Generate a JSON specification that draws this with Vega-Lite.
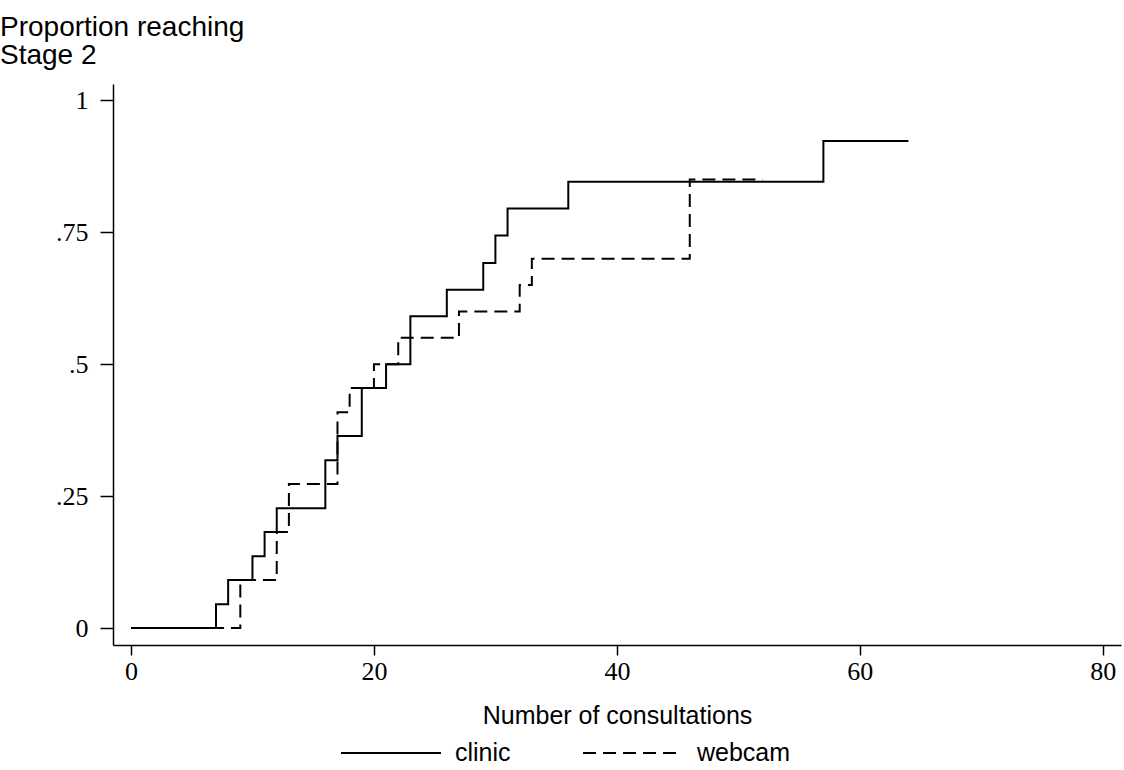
{
  "$schema": "https://vega.github.io/schema/vega-lite/v6.json",
  "autosize": "none",
  "width": 1008,
  "height": 561,
  "padding": {"left": 113, "top": 84, "right": 3, "bottom": 125},
  "background": "white",
  "title": {
    "text": ["Proportion reaching", "Stage 2"],
    "anchor": "start",
    "frame": "group",
    "dx": -113,
    "offset": 14,
    "font": "Liberation Sans",
    "fontSize": 28,
    "fontWeight": "normal",
    "lineHeight": 28,
    "color": "black"
  },
  "data": {
    "values": [
      {"group": "clinic", "consultations": 0, "proportion": 0},
      {"group": "clinic", "consultations": 7, "proportion": 0.045},
      {"group": "clinic", "consultations": 8, "proportion": 0.091},
      {"group": "clinic", "consultations": 10, "proportion": 0.136},
      {"group": "clinic", "consultations": 11, "proportion": 0.182},
      {"group": "clinic", "consultations": 12, "proportion": 0.227},
      {"group": "clinic", "consultations": 16, "proportion": 0.318},
      {"group": "clinic", "consultations": 17, "proportion": 0.364},
      {"group": "clinic", "consultations": 19, "proportion": 0.455},
      {"group": "clinic", "consultations": 21, "proportion": 0.5},
      {"group": "clinic", "consultations": 23, "proportion": 0.591},
      {"group": "clinic", "consultations": 26, "proportion": 0.641},
      {"group": "clinic", "consultations": 29, "proportion": 0.692},
      {"group": "clinic", "consultations": 30, "proportion": 0.744},
      {"group": "clinic", "consultations": 31, "proportion": 0.795},
      {"group": "clinic", "consultations": 36, "proportion": 0.846},
      {"group": "clinic", "consultations": 57, "proportion": 0.923},
      {"group": "clinic", "consultations": 64, "proportion": 0.923},
      {"group": "webcam", "consultations": 0, "proportion": 0},
      {"group": "webcam", "consultations": 9, "proportion": 0.091},
      {"group": "webcam", "consultations": 12, "proportion": 0.182},
      {"group": "webcam", "consultations": 13, "proportion": 0.273},
      {"group": "webcam", "consultations": 17, "proportion": 0.409},
      {"group": "webcam", "consultations": 18, "proportion": 0.455},
      {"group": "webcam", "consultations": 20, "proportion": 0.5},
      {"group": "webcam", "consultations": 22, "proportion": 0.55},
      {"group": "webcam", "consultations": 27, "proportion": 0.6},
      {"group": "webcam", "consultations": 32, "proportion": 0.65},
      {"group": "webcam", "consultations": 33, "proportion": 0.7},
      {"group": "webcam", "consultations": 46, "proportion": 0.85},
      {"group": "webcam", "consultations": 52, "proportion": 0.85}
    ]
  },
  "mark": {"type": "line", "interpolate": "step-after", "strokeWidth": 2, "color": "black", "strokeCap": "butt"},
  "encoding": {
    "x": {
      "field": "consultations",
      "type": "quantitative",
      "scale": {"domain": [-1.48, 81.5], "nice": false, "zero": false},
      "axis": {
        "values": [0, 20, 40, 60, 80],
        "grid": false,
        "tickSize": 10,
        "tickColor": "black",
        "domainColor": "black",
        "labelPadding": 3,
        "labelFont": "Liberation Serif",
        "labelFontSize": 26,
        "labelColor": "black",
        "title": "Number of consultations",
        "titleFont": "Liberation Sans",
        "titleFontSize": 25,
        "titleFontWeight": "normal",
        "titleColor": "black",
        "titlePadding": 19
      }
    },
    "y": {
      "field": "proportion",
      "type": "quantitative",
      "scale": {"domain": [-0.032, 1.031], "nice": false, "zero": false},
      "axis": {
        "values": [0, 0.25, 0.5, 0.75, 1],
        "labelExpr": "datum.value == 0 ? '0' : datum.value == 1 ? '1' : datum.value == 0.25 ? '.25' : datum.value == 0.5 ? '.5' : '.75'",
        "grid": false,
        "tickSize": 13,
        "tickColor": "black",
        "domainColor": "black",
        "labelPadding": 12,
        "labelFont": "Liberation Serif",
        "labelFontSize": 26,
        "labelColor": "black",
        "title": null
      }
    },
    "strokeDash": {
      "field": "group",
      "type": "nominal",
      "scale": {"domain": ["clinic", "webcam"], "range": [[1, 0], [13, 7]]},
      "legend": {
        "title": null,
        "orient": "none",
        "direction": "horizontal",
        "legendX": 227,
        "legendY": 618,
        "padding": 0,
        "symbolType": "stroke",
        "symbolSize": 10000,
        "symbolStrokeWidth": 2,
        "symbolStrokeColor": "black",
        "labelFont": "Liberation Sans",
        "labelFontSize": 25,
        "labelColor": "black",
        "labelOffset": 13,
        "columnPadding": 68
      }
    }
  },
  "config": {"view": {"stroke": null}, "axis": {"domainWidth": 1.5, "tickWidth": 1.5}}
}
